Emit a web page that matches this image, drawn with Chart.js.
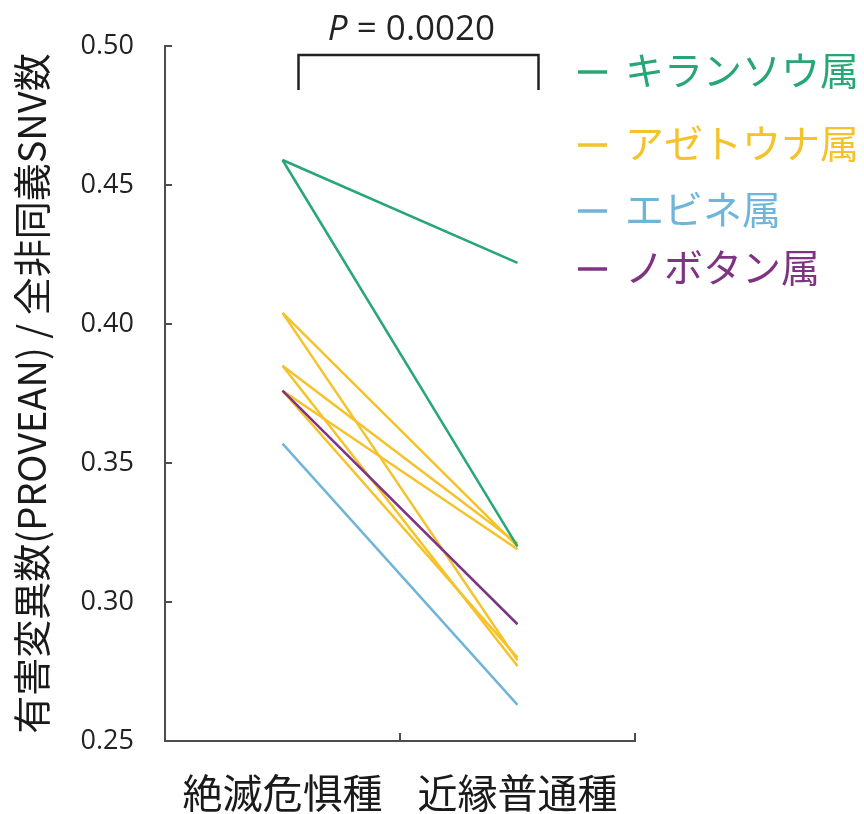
<!DOCTYPE html>
<html>
<head>
<meta charset="utf-8">
<script src="https://cdn.jsdelivr.net/npm/chart.js@4.4.1/dist/chart.umd.min.js"></script>
<style>
  html, body { margin: 0; padding: 0; background: #fff; }
  canvas { display: block; }
</style>
</head>
<body>
<canvas id="chart" width="864" height="814"></canvas>
<script>
// ---- data ----
const categories = ["絶滅危惧種", "近縁普通種"];
const genusNames = ["キランソウ属", "アゼトウナ属", "エビネ属", "ノボタン属"];

// each pair = [endangered, related common]
const kiransouPairs = [[0.459, 0.422], [0.459, 0.320]];
const azetounaPairs = [
  [0.404, 0.320], [0.404, 0.279],
  [0.385, 0.321], [0.385, 0.277],
  [0.376, 0.319], [0.376, 0.280]
];
const ebinePairs = [[0.357, 0.263]];
const nobotanPairs = [[0.376, 0.292]];

const yMin = 0.25, yMax = 0.50, yStep = 0.05;
const pValueText = "0.0020";

// ---- styles ----
const genusColors = ["#27a676", "#f5c22a", "#6fb5d9", "#7e3383"];
const genusOrder = [1, 4, 3, 2];   // lower = drawn on top
const legendRowY = [68, 141, 207, 265];
const axisColor = "#4d4d4d";
const jpFont = "'Noto Sans CJK JP', 'Noto Sans', sans-serif";
const numFont = "'Open Sans', 'Noto Sans', sans-serif";

const groups = [kiransouPairs, azetounaPairs, ebinePairs, nobotanPairs];
const datasets = [];
groups.forEach((pairs, g) => {
  pairs.forEach(p => {
    datasets.push({
      label: genusNames[g],
      data: p,
      borderColor: genusColors[g],
      borderWidth: 2.5,
      pointRadius: 0,
      tension: 0,
      order: genusOrder[g]
    });
  });
});

// --- white background, inward ticks, bracket, legend ---
const extras = {
  id: "extras",
  beforeDraw(chart) {
    const ctx = chart.ctx;
    ctx.save();
    ctx.fillStyle = "#fff";
    ctx.fillRect(0, 0, chart.width, chart.height);
    ctx.restore();
  },
  afterDraw(chart) {
    const ctx = chart.ctx;
    const xs = chart.scales.x, ys = chart.scales.y;
    const area = chart.chartArea;
    ctx.save();

    // inward tick marks
    ctx.strokeStyle = axisColor;
    ctx.lineWidth = 2;
    ys.ticks.forEach(t => {
      const y = ys.getPixelForValue(t.value);
      ctx.beginPath();
      ctx.moveTo(area.left, y);
      ctx.lineTo(area.left + 7, y);
      ctx.stroke();
    });
    const x0 = xs.getPixelForValue(0), x1 = xs.getPixelForValue(1);
    [(x0 + x1) / 2, area.right].forEach(x => {
      ctx.beginPath();
      ctx.moveTo(x, area.bottom);
      ctx.lineTo(x, area.bottom - 8);
      ctx.stroke();
    });

    // significance bracket
    const bl = x0 + 16, br = x1 + 21;
    const bTop = area.top + 9, bBot = area.top + 44;
    ctx.strokeStyle = "#222";
    ctx.lineWidth = 2.5;
    ctx.beginPath();
    ctx.moveTo(bl, bBot);
    ctx.lineTo(bl, bTop);
    ctx.lineTo(br, bTop);
    ctx.lineTo(br, bBot);
    ctx.stroke();

    // P = 0.0020
    const pSize = 35;
    ctx.fillStyle = "#222";
    ctx.textBaseline = "alphabetic";
    ctx.font = "italic " + pSize + "px " + numFont;
    const pW = ctx.measureText("P").width;
    ctx.font = pSize + "px " + numFont;
    const rest = " = " + pValueText;
    const rW = ctx.measureText(rest).width;
    const cx = (bl + br) / 2 - 7;
    const tx = cx - (pW + rW) / 2;
    ctx.font = "italic " + pSize + "px " + numFont;
    ctx.textAlign = "left";
    ctx.fillText("P", tx, bTop - 15);
    ctx.font = pSize + "px " + numFont;
    ctx.fillText(rest, tx + pW, bTop - 15);

    // legend
    ctx.font = "39px " + jpFont;
    ctx.textBaseline = "middle";
    genusNames.forEach((name, i) => {
      const y = legendRowY[i];
      ctx.strokeStyle = genusColors[i];
      ctx.fillStyle = genusColors[i];
      ctx.lineWidth = 3.5;
      ctx.beginPath();
      ctx.moveTo(area.right - 57, y + 4);
      ctx.lineTo(area.right - 28, y + 4);
      ctx.stroke();
      ctx.fillText(name, area.right - 10, y + 2);
    });
    ctx.restore();
  }
};

new Chart(document.getElementById("chart"), {
  type: "line",
  data: { labels: categories, datasets: datasets },
  options: {
    responsive: false,
    animation: false,
    devicePixelRatio: 1,
    layout: { padding: { left: 0, right: 229, top: 46, bottom: 0 } },
    plugins: { legend: { display: false }, tooltip: { enabled: false } },
    scales: {
      x: {
        type: "category",
        offset: true,
        grid: { display: false, offset: true },
        border: { display: true, color: axisColor, width: 2 },
        ticks: { color: "#1a1a1a", font: { family: jpFont, size: 40 }, padding: 20, maxRotation: 0 },
        afterFit: s => { s.height = 73; }
      },
      y: {
        min: yMin,
        max: yMax,
        grid: { display: false },
        border: { display: true, color: axisColor, width: 2 },
        ticks: {
          stepSize: yStep,
          color: "#222",
          padding: 23,
          font: { family: numFont, size: 27 },
          callback: v => Number(v).toFixed(2)
        },
        title: {
          display: true,
          text: "有害変異数(PROVEAN) / 全非同義SNV数",
          color: "#1a1a1a",
          font: { family: jpFont, size: 38 },
          padding: { top: 9, bottom: 0 }
        },
        afterFit: s => { s.width = 165; }
      }
    }
  },
  plugins: [extras]
});
</script>
</body>
</html>
